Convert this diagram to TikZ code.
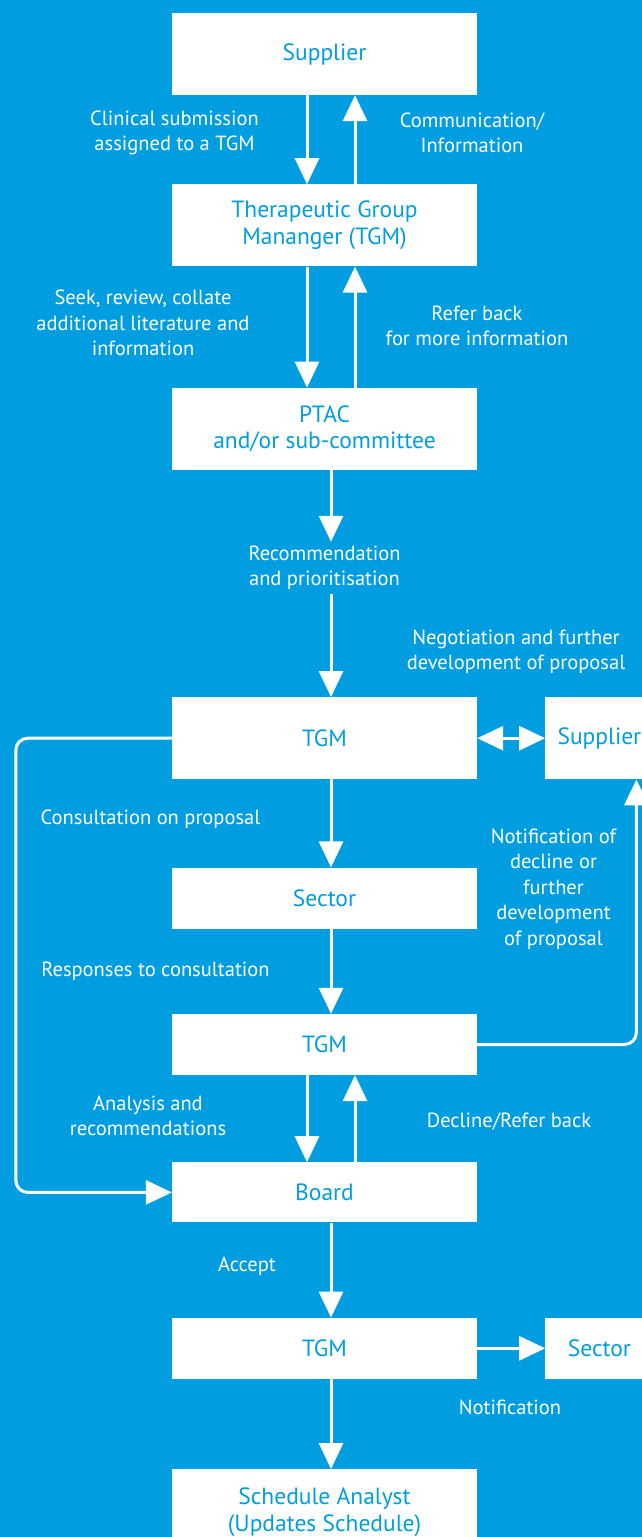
\documentclass[tikz,border=0pt]{standalone}
\usepackage{fontspec}
\setmainfont{PT Sans}
\usetikzlibrary{positioning,arrows.meta}
\definecolor{phblue}{RGB}{0,158,224}
\tikzset{
	box/.style={fill=white, text=phblue, minimum width=305pt, inner sep=0pt, align=center, font=\fontsize{23.5}{26.5}\selectfont},
	sidebox/.style={box, minimum width=108pt},
	note/.style={text=white, align=center, inner sep=4pt, font=\fontsize{20.5}{25.5}\selectfont},
	flow/.style={draw=white, line width=3pt},
	>={Triangle[length=26pt,width=24pt]}
}

\begin{document}
\begin{tikzpicture}[x=1pt,y=-1pt]
	\fill[phblue] (0,0) rectangle (642,1537);
	\useasboundingbox (0,0) rectangle (642,1537);

	% main column
	\node[box, minimum height=82pt] (sup) at (324.5,54) {Supplier};
	\node[box, minimum height=82pt, below=89pt of sup] (tgmA) {Therapeutic Group\\Mananger (TGM)};
	\node[box, minimum height=82pt, below=121pt of tgmA] (ptac) {PTAC\\and/or sub-committee};
	\node[box, minimum height=82pt, below=227pt of ptac] (tgmB) {TGM};
	\node[box, minimum height=61pt, below=88pt of tgmB] (sector) {Sector};
	\node[box, minimum height=61pt, below=85pt of sector] (tgmC) {TGM};
	\node[box, minimum height=60pt, below=87pt of tgmC] (board) {Board};
	\node[box, minimum height=61pt, below=95pt of board] (tgmD) {TGM};
	\node[box, minimum height=86pt, below=90pt of tgmD] (sched) {Schedule Analyst\\(Updates Schedule)};

	% side boxes
	\node[sidebox, minimum height=82pt, right=68pt of tgmB] (supR) {Supplier};
	\node[sidebox, minimum height=61pt, right=68pt of tgmD] (secR) {Sector};

	% labels
	\node[note] (subm) at (174.5,133) {Clinical submission\\assigned to a TGM};
	\node[note] (comm) at (472,133) {Communication/\\Information};
	\node[note] (seek) at (143,323) {Seek, review, collate\\additional literature and\\information};
	\node[note] (referA) at (477,326) {Refer back\\for more information};
	\node[note] (recom) at (324.5,568) {Recommendation\\and prioritisation};
	\node[note] (negot) at (516,652) {Negotiation and further\\development of proposal};
	\node[note] (consult) at (150.5,819) {Consultation on proposal};
	\node[note] (notifA) at (553.5,889) {Notification of\\decline or\\further\\development\\of proposal};
	\node[note] (resp) at (155.5,971) {Responses to consultation};
	\node[note] (anal) at (148,1116) {Analysis and\\recommendations};
	\node[note] (decl) at (509,1122) {Decline/Refer back};
	\node[note] (accept) at (247,1266) {Accept};
	\node[note] (notifB) at (510,1407) {Notification};

	% connectors
	\draw[flow,->] ([xshift=-17.5pt]sup.south) -- ([xshift=-17.5pt]tgmA.north);
	\draw[flow,->] ([xshift=30.5pt]tgmA.north) -- ([xshift=30.5pt]sup.south);
	\draw[flow,->] ([xshift=-17.5pt]tgmA.south) -- ([xshift=-17.5pt]ptac.north);
	\draw[flow,->] ([xshift=30.5pt]ptac.north) -- ([xshift=30.5pt]tgmA.south);
	\draw[flow,->] ([xshift=6.5pt]ptac.south) -- ([xshift=6.5pt]recom.north);
	\draw[flow,->] ([xshift=6.5pt]recom.south) -- ([xshift=6.5pt]tgmB.north);
	\draw[flow,<->] (tgmB.east) -- (supR.west);
	\draw[flow,->] ([xshift=6.5pt]tgmB.south) -- ([xshift=6.5pt]sector.north);
	\draw[flow,->] ([xshift=6.5pt]sector.south) -- ([xshift=6.5pt]tgmC.north);
	\draw[flow,->, rounded corners=12pt] (tgmB.west) -- ++(-156,0) |- (board.west);
	\draw[flow,->, rounded corners=12pt] (tgmC.east) -| ([xshift=37pt]supR.south);
	\draw[flow,->] ([xshift=-17.5pt]tgmC.south) -- ([xshift=-17.5pt]board.north);
	\draw[flow,->] ([xshift=30.5pt]board.north) -- ([xshift=30.5pt]tgmC.south);
	\draw[flow,->] ([xshift=6.5pt]board.south) -- ([xshift=6.5pt]tgmD.north);
	\draw[flow,->] (tgmD.east) -- (secR.west);
	\draw[flow,->] ([xshift=6.5pt]tgmD.south) -- ([xshift=6.5pt]sched.north);
\end{tikzpicture}
\end{document}
